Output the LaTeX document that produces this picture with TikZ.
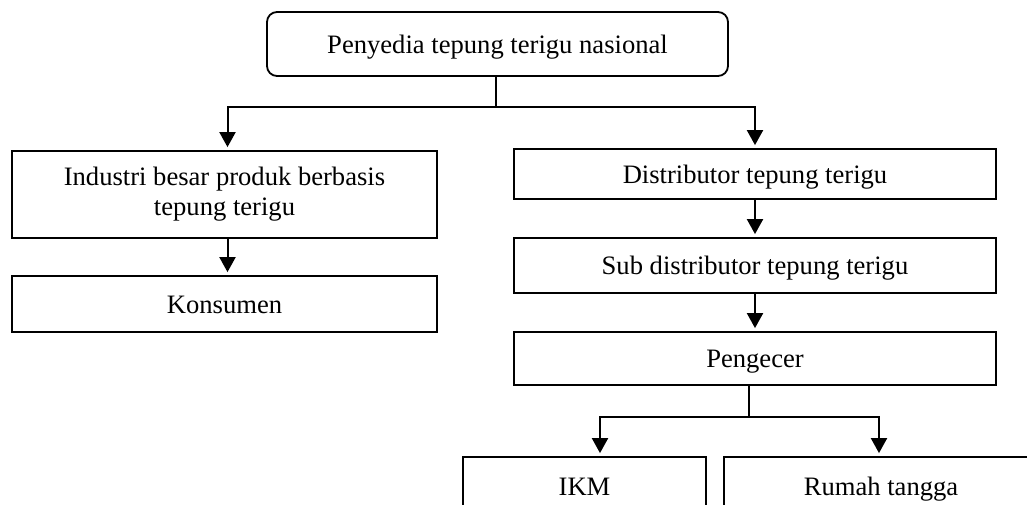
\documentclass[tikz,border=0pt]{standalone}
\usepackage{fontspec}
\setmainfont{Liberation Serif}
\usetikzlibrary{arrows.meta}

\begin{document}
\begin{tikzpicture}[x=0.5pt,y=-0.5pt,
  font=\fontsize{13.3}{15}\selectfont,
  box/.style={draw, line width=0.9pt, align=center, inner sep=0pt},
  oneline/.style={text height=11pt, text depth=2pt},
  arr/.style={-{Triangle[width=8pt,length=7.5pt]}, line width=1pt, shorten >=1.5pt}]
\useasboundingbox (0,0) rectangle (1027,504);
\clip (0,0) rectangle (1027,504);
% boxes
\node[box, oneline, rounded corners=5pt, minimum width=230.5pt, minimum height=32pt] (top) at (497.5,44) {Penyedia tepung terigu nasional};
\node[box, minimum width=212.5pt, minimum height=43.5pt] (ind) at (224.5,194.5) {Industri besar produk berbasis\\tepung terigu};
\node[box, oneline, minimum width=212.5pt, minimum height=28pt] (kons) at (224.5,304) {Konsumen};
\node[box, oneline, minimum width=241pt, minimum height=25pt] (dist) at (755,174) {Distributor tepung terigu};
\node[box, oneline, minimum width=241pt, minimum height=27.5pt] (sub) at (755,265.5) {Sub distributor tepung terigu};
\node[box, oneline, minimum width=241pt, minimum height=26.5pt] (peng) at (755,358.5) {Pengecer};
\node[box, oneline, minimum width=121.5pt, minimum height=29pt] (ikm) at (584.5,486) {IKM};
\node[box, oneline, minimum width=157pt, minimum height=29pt] (rumah) at (881,486) {Rumah tangga};
% connectors
\coordinate (split1) at (496,107);
\coordinate (split2) at (749,417);
\draw [line width=1pt] (top.south -| split1) -- (split1);
\draw [arr] (split1) -| ([xshift=1.5pt]ind.north);
\draw [arr] (split1) -| (dist.north);
\draw [arr] ([xshift=1.5pt]ind.south) -- ([xshift=1.5pt]kons.north);
\draw [arr] (dist) -- (sub);
\draw [arr] (sub) -- (peng);
\draw [line width=1pt] (peng.south -| split2) -- (split2);
\draw [arr] (split2) -| ([xshift=7.75pt]ikm.north);
\draw [arr] (split2) -| ([xshift=-1pt]rumah.north);
\end{tikzpicture}
\end{document}
